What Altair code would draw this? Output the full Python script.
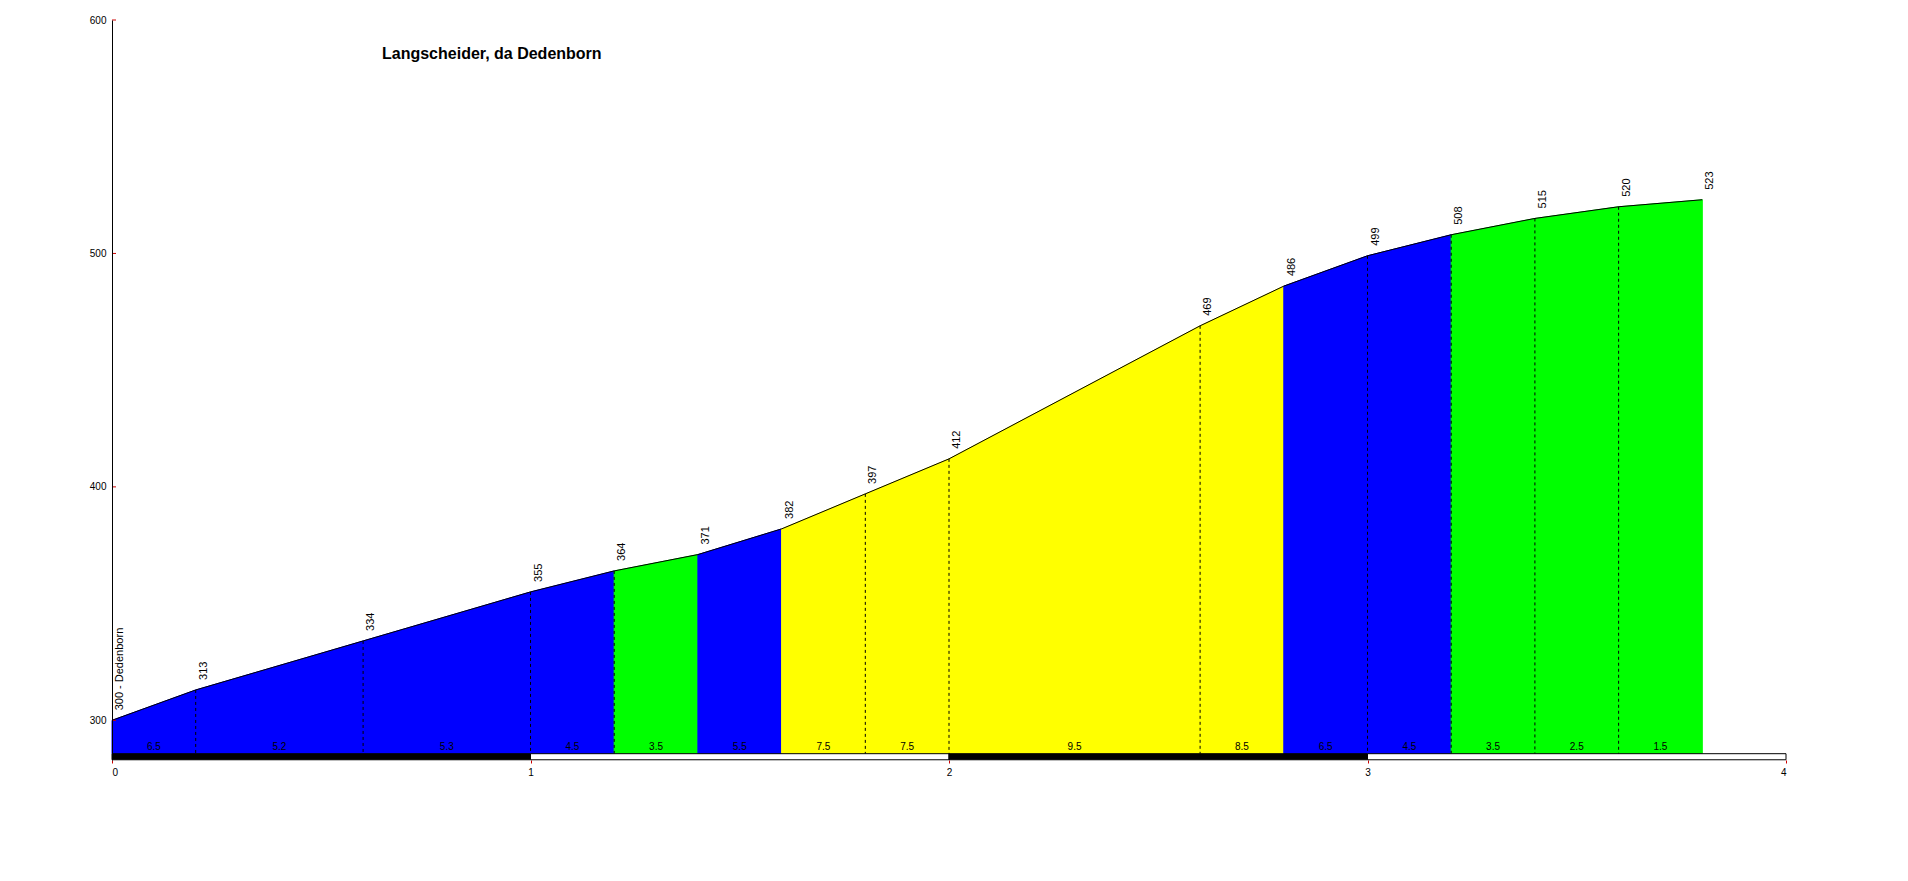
import altair as alt
import pandas as pd

TITLE = "Langscheider, da Dedenborn"
dist_km = [0.0, 0.2, 0.6, 1.0, 1.2, 1.4, 1.6, 1.8, 2.0, 2.6, 2.8, 3.0, 3.2, 3.4, 3.6, 3.8]
elev_m = [300, 313, 334, 355, 364, 371, 382, 397, 412, 469, 486, 499, 508, 515, 520, 523]
elev_labels = ["300 - Dedenborn", "313", "334", "355", "364", "371", "382", "397",
               "412", "469", "486", "499", "508", "515", "520", "523"]
grad_pct = [6.5, 5.2, 5.3, 4.5, 3.5, 5.5, 7.5, 7.5, 9.5, 8.5, 6.5, 4.5, 3.5, 2.5, 1.5]
grad_labels = ["6.5", "5.2", "5.3", "4.5", "3.5", "5.5", "7.5", "7.5", "9.5", "8.5",
               "6.5", "4.5", "3.5", "2.5", "1.5"]
dashed_marker = [False, True, True, True, True, False, False, True, True, True, False,
                 True, True, True, True, False]
km_ticks = [0, 1, 2, 3, 4]
elev_ticks = [300, 400, 500, 600]

BASE = 285.7      # baseline of the profile
BAR_LOW = 283.1   # bottom of km scale bar
GRAD_Y = 288.7    # vertical position of gradient labels
FONT = "Liberation Sans"

xscale = alt.Scale(domain=[0, 4], nice=False, zero=False)
yscale = alt.Scale(domain=[283, 600], nice=False, zero=False)
thr = alt.Scale(type="threshold", domain=[4, 7, 10],
                range=["#00FF00", "#0000FF", "#FFFF00", "#FF0000"])

# segments
seg_rows = []
for i in range(len(grad_pct)):
    seg_rows.append({"d": dist_km[i], "e": elev_m[i], "seg": i, "g": grad_pct[i]})
    seg_rows.append({"d": dist_km[i + 1], "e": elev_m[i + 1], "seg": i, "g": grad_pct[i]})
seg_df = pd.DataFrame(seg_rows)

pts_df = pd.DataFrame({"d": dist_km, "e": elev_m, "lab": elev_labels, "dash": dashed_marker})
dash_df = pts_df[pts_df["dash"]]

grad_df = pd.DataFrame({
    "mid": [(dist_km[i] + dist_km[i + 1]) / 2 for i in range(len(grad_pct))],
    "lab": grad_labels,
})

bar_df = pd.DataFrame({
    "s": km_ticks[:-1],
    "t": km_ticks[1:],
    "shade": [("a" if i % 2 == 0 else "b") for i in range(len(km_ticks) - 1)],
})

x_axis = alt.Axis(values=km_ticks, domain=False, grid=False, tickColor="#CC0000",
                  tickSize=3, labelFontSize=10, labelPadding=4, labelColor="black",
                  labelFont=FONT, title=None, format="d")
y_axis = alt.Axis(values=elev_ticks, domain=True, domainColor="black", domainWidth=1,
                  ticks=False, tickSize=0, grid=False, labelFontSize=10, labelPadding=6,
                  labelColor="black", labelFont=FONT, title=None, zindex=1)

area = alt.Chart(seg_df).mark_area(strokeWidth=1).encode(
    x=alt.X("d:Q", scale=xscale, axis=x_axis),
    y=alt.Y("e:Q", scale=yscale, axis=y_axis),
    y2=alt.datum(BASE),
    detail="seg:N",
    fill=alt.Fill("g:Q", scale=thr, legend=None),
    stroke=alt.Stroke("g:Q", scale=thr, legend=None),
)

line = alt.Chart(pts_df).mark_line(color="black", strokeWidth=1).encode(
    x=alt.X("d:Q", scale=xscale),
    y=alt.Y("e:Q", scale=yscale),
)

dashes = alt.Chart(dash_df).mark_rule(color="black", strokeWidth=1, strokeDash=[3, 3]).encode(
    x=alt.X("d:Q", scale=xscale),
    y=alt.Y("e:Q", scale=yscale),
    y2=alt.datum(BASE),
)

elev_text = alt.Chart(pts_df).mark_text(
    angle=270, align="left", baseline="middle", dx=10, dy=8,
    fontSize=11, font=FONT, color="black",
).encode(
    x=alt.X("d:Q", scale=xscale),
    y=alt.Y("e:Q", scale=yscale),
    text="lab:N",
)

grad_text = alt.Chart(grad_df).mark_text(
    align="center", baseline="middle", fontSize=10, font=FONT, color="black",
).encode(
    x=alt.X("mid:Q", scale=xscale),
    y=alt.datum(GRAD_Y),
    text="lab:N",
)

bar = alt.Chart(bar_df).mark_rect(stroke="black", strokeWidth=1).encode(
    x=alt.X("s:Q", scale=xscale),
    x2="t:Q",
    y=alt.datum(BAR_LOW),
    y2=alt.datum(BASE),
    fill=alt.Fill("shade:N", scale=alt.Scale(domain=["a", "b"], range=["black", "white"]),
                  legend=None),
)

yticks = alt.Chart(pd.DataFrame({"v": elev_ticks})).mark_rule(
    color="#CC0000", strokeWidth=1
).encode(
    y=alt.Y("v:Q", scale=yscale),
    x=alt.value(0),
    x2=alt.value(4),
)

title = alt.Chart(pd.DataFrame({"t": [TITLE]})).mark_text(
    align="left", baseline="middle", fontSize=16, fontWeight="bold", font=FONT, color="black",
).encode(
    text="t:N",
    x=alt.value(270),
    y=alt.value(34),
)

chart = alt.layer(area, dashes, line, bar, elev_text, grad_text, yticks, title).resolve_scale(
    fill="independent"
).properties(
    width=1674,
    height=740,
    padding={"left": 104, "top": 12, "right": 40, "bottom": 40},
    autosize=alt.AutoSizeParams(type="none"),
    background="white",
).configure_view(stroke=None)

chart.save("out.html", embed_options={"renderer": "svg", "actions": False})
